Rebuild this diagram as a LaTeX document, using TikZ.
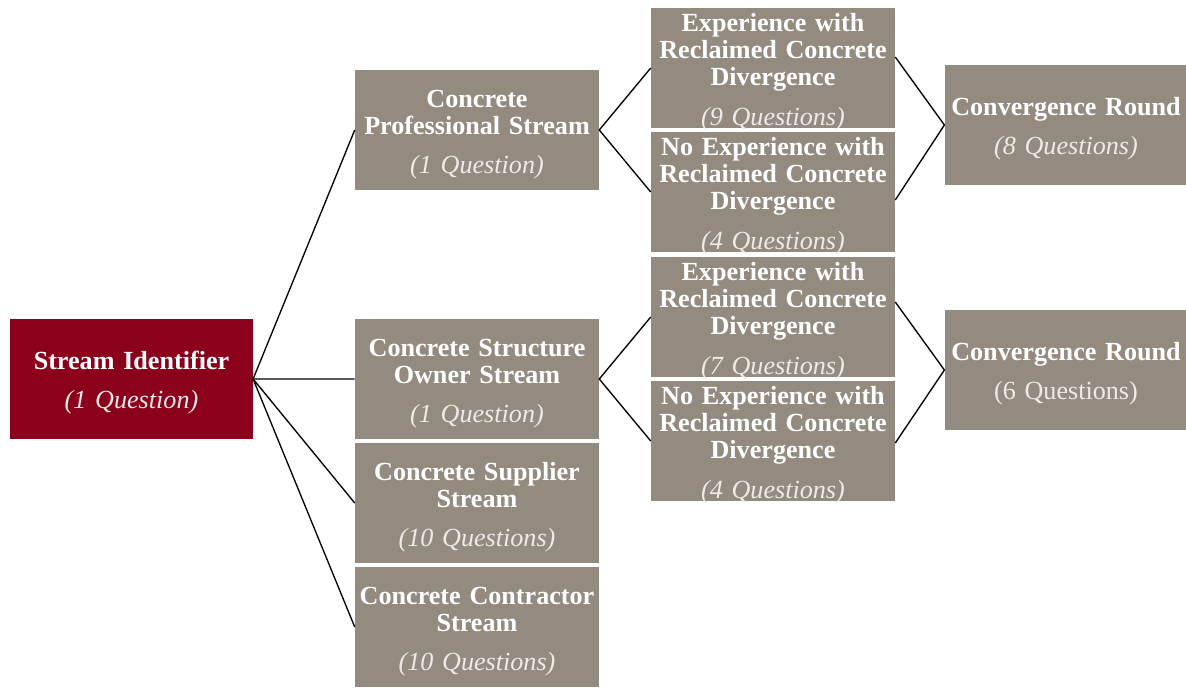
\documentclass[tikz,border=0pt]{standalone}
\usepackage{fontspec}
\setmainfont{Liberation Serif}
\usepackage{xcolor}
\usetikzlibrary{positioning}

\definecolor{boxgrey}{RGB}{148,139,128}
\definecolor{boxred}{RGB}{139,0,26}
\definecolor{counttext}{RGB}{238,234,230}

\newcommand{\qcount}[1]{\\[9pt]{\color{counttext}\mdseries\itshape #1}}

\begin{document}
\begin{tikzpicture}[
    x=0.75pt, y=-0.75pt,
    streambox/.style={rectangle, fill=boxgrey, text=white, font=\fontsize{19.6}{20.4}\selectfont\bfseries,
        minimum width=183pt, minimum height=90pt, inner xsep=0pt, inner ysep=-4pt, text width=182pt, align=center,
        execute at begin node={\rule{0pt}{19.5pt}}},
    idbox/.style={streambox, fill=boxred, minimum width=182pt},
    convbox/.style={streambox, minimum width=180pt},
    link/.style={draw=black, line width=1pt}
]
    \useasboundingbox (0,0) rectangle (1186,687);

    % first column
    \node[idbox] (sid) at (131.5,379) {Stream Identifier\qcount{(1 Question)}};

    % streams
    \node[streambox] (prof)  at (477,130) {Concrete\\Professional Stream\qcount{(1 Question)}};
    \node[streambox] (owner) at (477,379) {Concrete Structure\\Owner Stream\qcount{(1 Question)}};
    \node[streambox] (supp)  at (477,503) {Concrete Supplier\\Stream\qcount{(10 Questions)}};
    \node[streambox] (contr) at (477,627) {Concrete Contractor\\Stream\qcount{(10 Questions)}};

    % divergence
    \node[streambox] (expA)   at (773,68)  {Experience with\\Reclaimed Concrete\\Divergence\qcount{(9 Questions)}};
    \node[streambox] (noexpA) at (773,192) {No Experience with\\Reclaimed Concrete\\Divergence\qcount{(4 Questions)}};
    \node[streambox] (expB)   at (773,317) {Experience with\\Reclaimed Concrete\\Divergence\qcount{(7 Questions)}};
    \node[streambox] (noexpB) at (773,441) {No Experience with\\Reclaimed Concrete\\Divergence\qcount{(4 Questions)}};

    % convergence
    \node[convbox] (convA) at (1066,125) {Convergence Round\qcount{(8 Questions)}};
    \node[convbox] (convB) at (1066,370) {Convergence Round\\[9pt]{\color{counttext}\mdseries (6 Questions)}};

    % connectors
    \draw[link] (prof.west) -- (sid.east) -- (owner.west);
    \draw[link] (supp.west) -- (sid.east) -- (contr.west);
    \draw[link] (expA.west) -- (prof.east) -- (noexpA.west);
    \draw[link] (expB.west) -- (owner.east) -- (noexpB.west);
    \draw[link] ([yshift=8.25pt]expA.east) -- (convA.west) -- ([yshift=-6pt]noexpA.east);
    \draw[link] ([yshift=11.25pt]expB.east) -- (convB.west) -- ([yshift=-1.5pt]noexpB.east);
\end{tikzpicture}
\end{document}
